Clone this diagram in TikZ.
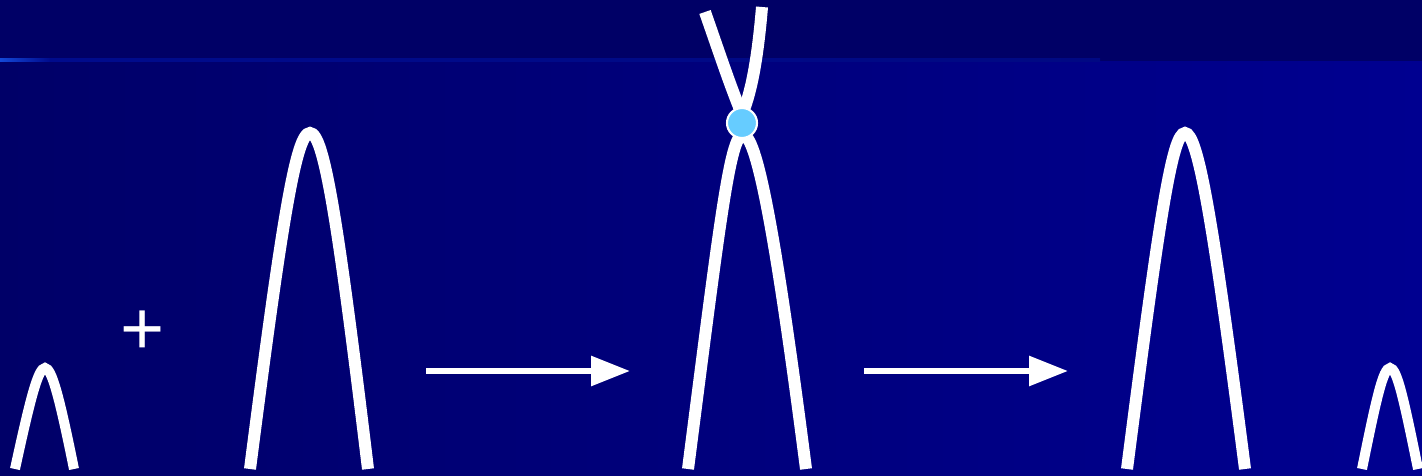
\documentclass[tikz,border=0pt]{standalone}
\usepackage{fontspec}
\setmainfont{Liberation Sans}
\usepackage{tikz}
\usetikzlibrary{arrows.meta}
\definecolor{topband}{RGB}{0,0,102}
\definecolor{lowleft}{RGB}{0,0,104}
\definecolor{lowright}{RGB}{0,0,144}
\definecolor{rulecol}{RGB}{0,14,150}
\definecolor{ruleglow}{RGB}{20,72,215}
\definecolor{knot}{RGB}{102,204,255}
\tikzset{
  peak/.style={white, line width=12*0.02cm, line cap=butt},
  smallpeak/.style={white, line width=10*0.02cm, line cap=butt},
  flow/.style={white, line width=6*0.02cm, -{Triangle[length=0.78cm,width=0.58cm]}}
}

\begin{document}
\begin{tikzpicture}[x=0.02cm, y=-0.02cm]
    \useasboundingbox (0,0) rectangle (1422,476);
    % Background
    \shade[left color=lowleft, right color=lowright] (0,58) rectangle (1422,476);
    \fill[topband] (0,0) rectangle (1422,61);
    \shade[left color=rulecol!80!lowleft, right color=rulecol!60!topband] (0,59) rectangle (1100,62);
    \shade[left color=ruleglow, right color=rulecol!80!lowleft] (0,59) rectangle (50,62);
    
    % Small peak (left)
    \draw[smallpeak] (15,469) .. controls (30,400) and (38,368) .. (45,368)
        .. controls (52,368) and (60,400) .. (74,469);
    
    % Plus
    \node[white, font=\fontsize{43}{43}\selectfont, inner sep=0pt] (plus) at (143,333) {+};
    
    % Tall peak
    \draw[peak] (250,469) .. controls (282,220) and (296,133) .. (310,133)
        .. controls (324,133) and (338,220) .. (368,469);
    
    % First arrow
    \coordinate (a1s) at (426,371);
    \coordinate (a1e) at (630,371);
    \draw[flow] (a1s) -- (a1e);
    
    % Peak with crossing
    \draw[peak] (688,469) .. controls (720,220) and (730,135) .. (743,135)
        .. controls (756,135) and (774,220) .. (806,469);
    \draw[peak] (705,12) .. controls (720,55) and (730,85) .. (741,112);
    \draw[peak] (762,7) .. controls (758,55) and (752,90) .. (743,112);
    \node[circle, fill=knot, draw=white, line width=1.2pt, minimum size=30*0.02cm, inner sep=0pt] (cross) at (742,123) {};
    
    % Second arrow
    \coordinate (a2s) at (864,371);
    \coordinate (a2e) at (1068,371);
    \draw[flow] (a2s) -- (a2e);
    
    % Tall peak (right)
    \draw[peak] (1127,469) .. controls (1159,220) and (1172,133) .. (1185,133)
        .. controls (1198,133) and (1213,220) .. (1245,469);
    
    % Small peak (right)
    \draw[smallpeak] (1362,469) .. controls (1376,400) and (1383,368) .. (1390,368)
        .. controls (1397,368) and (1404,400) .. (1418,469);
\end{tikzpicture}
\end{document}
